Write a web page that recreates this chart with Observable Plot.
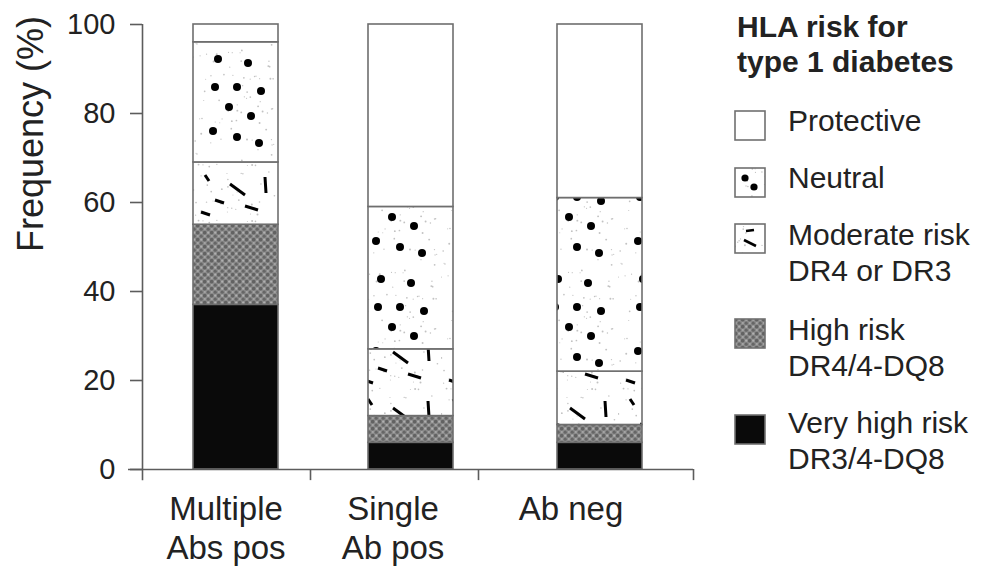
<!DOCTYPE html>
<html><head><meta charset="utf-8">
<script src="https://cdn.jsdelivr.net/npm/d3@7"></script>
<script src="https://cdn.jsdelivr.net/npm/@observablehq/plot@0.6"></script>
<style>
html,body{margin:0;padding:0;background:#fff;}
body{font-family:"Liberation Sans",Arial,Helvetica,sans-serif;color:#222;}
#wrap{position:relative;width:981px;height:567px;overflow:hidden;}
#chart{position:absolute;left:0;top:0;}
.lg-title{position:absolute;left:737px;top:9px;font-weight:bold;font-size:30px;line-height:35px;white-space:pre;color:#222;}
.lg-sw{position:absolute;left:734px;}
.lg-tx{position:absolute;left:788px;font-size:30px;line-height:36.5px;white-space:pre;color:#222;}
</style></head>
<body>
<svg id="defs" width="0" height="0" style="position:absolute;left:0;top:0"><defs></defs></svg>
<div id="wrap"><div id="chart"></div><div id="legend"></div></div>
<script>
// ---- data ----
const groups = ["Multiple Abs pos", "Single Ab pos", "Ab neg"];
const groupLabels = ["Multiple\nAbs pos", "Single\nAb pos", "Ab neg"];
const risks = ["Very high risk", "High risk", "Moderate risk", "Neutral", "Protective"];
const veryHigh   = [37, 6, 6];
const high       = [18, 6, 4];
const moderate   = [14, 15, 12];
const neutral    = [27, 32, 39];
const protective = [4, 41, 39];
const yTicks = [0, 20, 40, 60, 80, 100];
const legendTitle = "HLA risk for\ntype 1 diabetes";
const legendLabels = ["Protective", "Neutral", "Moderate risk\nDR4 or DR3", "High risk\nDR4/4-DQ8", "Very high risk\nDR3/4-DQ8"];

// ---- patterns ----
const NS = "http://www.w3.org/2000/svg";
const defs = document.querySelector("#defs defs");
function el(tag, attrs, parent) {
  const e = document.createElementNS(NS, tag);
  for (const k in attrs) e.setAttribute(k, attrs[k]);
  parent.appendChild(e);
  return e;
}
let seed = 12345;
function rnd() { seed = (seed * 16807) % 2147483647; return (seed - 1) / 2147483646; }
function pattern(id, w, h, x0 = 0, y0 = 0, parent = defs) {
  return el("pattern", {id, width: w, height: h, x: x0, y: y0, patternUnits: "userSpaceOnUse"}, parent);
}
function speckle(p, w, h, n) {
  el("rect", {width: w, height: h, fill: "#fff"}, p);
  for (let i = 0; i < n; i++) el("circle", {cx: rnd() * w, cy: rnd() * h, r: 0.5 + rnd() * 0.5, fill: "#c2c2c2"}, p);
}
// neutral: speckles + big dots
{
  const p = pattern("pNeu", 85, 110, 193, 42);
  speckle(p, 85, 110, 70);
  [[25,17],[55,21],[22,45],[44,45],[68,49],[36,65],[58,74],[20,89],[44,95],[66,101]]
    .forEach(([x, y]) => el("circle", {cx: x, cy: y, r: 4, fill: "#000"}, p));
}
// moderate: speckles + short dashes
{
  const p = pattern("pMod", 85, 56, 193, 162);
  speckle(p, 85, 56, 40);
  [[12,13,16,19],[37,22,52,33],[72,15,73,31],[22,38,31,41],[52,44,65,48],[8,50,17,53]]
    .forEach(([x1, y1, x2, y2]) => el("line", {x1, y1, x2, y2, stroke: "#000", "stroke-width": 3}, p));
}
// high: dark mottled grey
{
  const p = pattern("pHigh", 7, 7);
  el("rect", {width: 7, height: 7, fill: "#8a8a8a"}, p);
  el("circle", {cx: 1.7, cy: 1.7, r: 1.8, fill: "#626262"}, p);
  el("circle", {cx: 5.2, cy: 5.2, r: 1.6, fill: "#666"}, p);
  el("circle", {cx: 5.2, cy: 1.7, r: 1.1, fill: "#b0b0b0"}, p);
  el("circle", {cx: 1.9, cy: 5.0, r: 1.0, fill: "#a8a8a8"}, p);
}
// legend-specific patterns
{
  const p = pattern("lgNeu", 32, 31);
  speckle(p, 32, 31, 12);
  el("circle", {cx: 11, cy: 11, r: 3.6, fill: "#000"}, p);
  el("circle", {cx: 20, cy: 20, r: 3.6, fill: "#000"}, p);
  const q = pattern("lgMod", 32, 31);
  speckle(q, 32, 31, 12);
  el("line", {x1: 12, y1: 8, x2: 20, y2: 7, stroke: "#000", "stroke-width": 2.6}, q);
  el("line", {x1: 10, y1: 17, x2: 22, y2: 23, stroke: "#000", "stroke-width": 2.6}, q);
}

// ---- chart ----
const series = [veryHigh, high, moderate, neutral, protective];
const rows = [];
groups.forEach((g, i) => risks.forEach((r, j) => rows.push({group: g, risk: r, value: series[j][i]})));
const fills = ["#0a0a0a", "url(#pHigh)", "url(#pMod)", "url(#pNeu)", "#ffffff"];
const axisColor = "#5c5c5c";
// small per-group horizontal nudges (styling only)
const barNudge = [0, -7, 0];
const labelNudge = [-10, -25, -29];

const chart = Plot.plot({
  width: 981, height: 567,
  marginLeft: 142, marginRight: 288, marginTop: 24, marginBottom: 98,
  style: {fontFamily: '"Liberation Sans", Arial, sans-serif', color: "#222", background: "transparent", overflow: "visible"},
  x: {type: "band", domain: groups, paddingInner: 0.533, paddingOuter: 0.28, axis: null},
  y: {domain: [0, 100], axis: null},
  color: {type: "ordinal", domain: risks, range: fills},
  marks: [
    ...groups.map((g, i) => Plot.barY(rows.filter(d => d.group === g),
      {x: "group", y: "value", fill: "risk", stroke: "#6e6e6e", strokeWidth: 1.6, dx: barNudge[i]})),
    Plot.ruleY([0], {stroke: axisColor, strokeWidth: 1.6, insetLeft: -14}),
    Plot.ruleX([groups[0]], {y1: -2.5, y2: 100, dx: -93.5, stroke: axisColor, strokeWidth: 1.6}),
    Plot.ruleX([groups[1]], {y1: -2.5, y2: 0, dx: -107.5, stroke: axisColor, strokeWidth: 1.6}),
    Plot.ruleX([groups[2]], {y1: -2.5, y2: 0, dx: -121.5, stroke: axisColor, strokeWidth: 1.6}),
    Plot.ruleX([groups[2]], {y1: -2.5, y2: 0, dx: 93.5, stroke: axisColor, strokeWidth: 1.6}),
    Plot.axisY({ticks: yTicks, tickSize: 12, tickPadding: 15, fontSize: 29, label: null, stroke: axisColor, strokeWidth: 1.6}),
    Plot.text(["Frequency (%)"], {frameAnchor: "left", rotate: -90, dx: -111, dy: 5, fontSize: 36}),
    ...groups.map((g, i) => Plot.text([g], {x: d => d, frameAnchor: "bottom", lineAnchor: "top", dy: 22, dx: labelNudge[i],
      fontSize: 33, lineHeight: 1.2, text: () => groupLabels[i]}))
  ]
});
document.getElementById("chart").appendChild(chart);

// ---- legend ----
const legend = document.getElementById("legend");
const t = document.createElement("div");
t.className = "lg-title"; t.textContent = legendTitle; legend.appendChild(t);
const swFills = ["#ffffff", "url(#lgNeu)", "url(#lgMod)", "url(#pHigh)", "#0a0a0a"];
const boxTops = [110, 167, 223, 318, 414];
const textTops = [103, 159.5, 216.5, 311.5, 404.5];
legendLabels.forEach((lab, i) => {
  const sw = document.createElementNS(NS, "svg");
  sw.setAttribute("class", "lg-sw");
  sw.setAttribute("width", 33); sw.setAttribute("height", 32);
  sw.style.top = boxTops[i] + "px";
  el("rect", {x: 1, y: 1, width: 30, height: 29, fill: swFills[i], stroke: "#707070", "stroke-width": 1.6}, sw);
  legend.appendChild(sw);
  const tx = document.createElement("div");
  tx.className = "lg-tx"; tx.textContent = lab; tx.style.top = textTops[i] + "px";
  legend.appendChild(tx);
});
</script>
</body></html>
